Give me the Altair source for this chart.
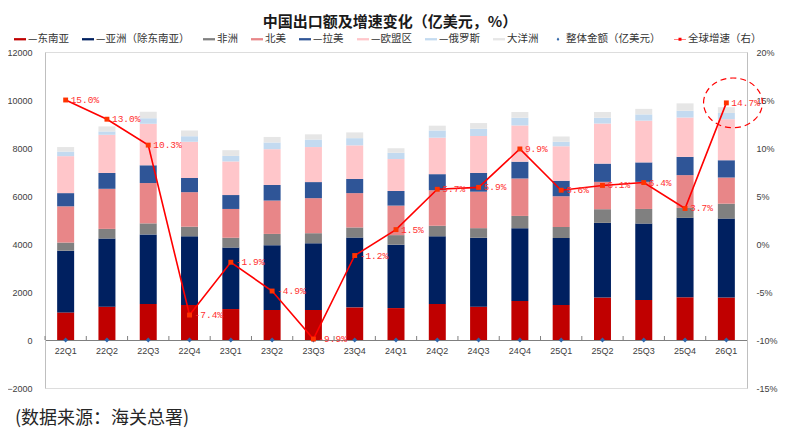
import altair as alt
import pandas as pd

quarters = ["22Q1", "22Q2", "22Q3", "22Q4", "23Q1", "23Q2", "23Q3", "23Q4", "24Q1",
            "24Q2", "24Q3", "24Q4", "25Q1", "25Q2", "25Q3", "25Q4", "26Q1"]

se_asia   = [1150, 1390, 1500, 1460, 1290, 1250, 1250, 1360, 1330, 1500, 1390, 1630, 1460, 1770, 1670, 1780, 1770]
asia_ex   = [2570, 2840, 2900, 2860, 2560, 2700, 2780, 2910, 2640, 2820, 2870, 3030, 2790, 3110, 3180, 3310, 3290]
africa    = [340, 400, 460, 400, 410, 470, 420, 420, 400, 440, 400, 510, 460, 570, 610, 410, 620]
n_america = [1510, 1670, 1680, 1440, 1200, 1390, 1460, 1430, 1230, 1480, 1520, 1560, 1280, 1140, 1130, 1370, 1090]
latam     = [550, 660, 740, 590, 580, 650, 670, 590, 610, 670, 780, 700, 650, 760, 810, 760, 720]
eu        = [1540, 1590, 1730, 1510, 1400, 1490, 1460, 1400, 1330, 1520, 1540, 1510, 1430, 1670, 1740, 1640, 1710]
russia    = [190, 140, 230, 230, 230, 280, 310, 300, 260, 300, 300, 320, 190, 240, 260, 280, 260]
oceania   = [190, 210, 270, 240, 240, 230, 220, 240, 190, 200, 240, 240, 220, 240, 230, 310, 240]

growth = [15.0, 13.0, 10.3, -7.4, -1.9, -4.9, -9.9, -1.2, 1.5, 5.7, 5.9, 9.9, 5.6, 6.1, 6.4, 3.7, 14.7]

region_names = ["—东南亚", "—亚洲（除东南亚）", "非洲", "北美", "—拉美", "—欧盟区", "—俄罗斯", "大洋洲"]
region_colors = ["#c00000", "#002060", "#808080", "#e88688", "#2f5597", "#ffc6ca", "#c3daf0", "#e6e6e6"]
region_values = [se_asia, asia_ex, africa, n_america, latam, eu, russia, oceania]

total_name = "整体金额（亿美元）"
growth_name = "全球增速（右）"
total_color = "#2e64a8"
growth_color = "#ff0000"

title_text = "中国出口额及增速变化（亿美元，%）"
source_note = "(数据来源：海关总署)"

left_ticks = [-2000, 0, 2000, 4000, 6000, 8000, 10000, 12000]
right_ticks = [-15, -10, -5, 0, 5, 10, 15, 20]

# ---- layout ----
W, H = 702, 336
LEFT_DOM = [-2000, 12000]
RIGHT_DOM = [-15, 20]
zero_px = H * (LEFT_DOM[1] - 0) / (LEFT_DOM[1] - LEFT_DOM[0])  # from top
zero_from_bottom = H - zero_px

FONT_NUM = "Liberation Sans"
FONT_CJK = "Noto Sans CJK SC"

rows = []
for i, (name, color, vals) in enumerate(zip(region_names, region_colors, region_values)):
    for q, v in zip(quarters, vals):
        rows.append({"quarter": q, "region": name, "value": v, "order": i, "color": color})
bar_df = pd.DataFrame(rows)

line_df = pd.DataFrame({
    "quarter": quarters,
    "growth": growth,
    "label": [f"{g:.1f}%" for g in growth],
})
q_df = pd.DataFrame({"quarter": quarters})
hl_df = line_df.tail(1)

x_scale = alt.Scale(domain=quarters, paddingInner=0, paddingOuter=0)
ly = alt.Scale(domain=LEFT_DOM, nice=False, zero=False)
ry = alt.Scale(domain=RIGHT_DOM, nice=False, zero=False)
xn = alt.X("quarter:N", scale=x_scale, sort=quarters, title=None)

bars = alt.Chart(bar_df).mark_bar(size=17).encode(
    x=alt.X("quarter:N", scale=x_scale, sort=quarters,
            axis=alt.Axis(orient="bottom", title=None, labelAngle=0, domain=True,
                          domainColor="#7f7f7f", domainWidth=1, ticks=False, tickSize=0,
                          labelFont=FONT_NUM, labelFontSize=9, labelColor="#404040",
                          labelPadding=6, offset=-zero_from_bottom, grid=False)),
    y=alt.Y("value:Q", stack="zero", scale=ly,
            axis=alt.Axis(orient="left", title=None, values=left_ticks, format="d",
                          grid=False, domain=True, domainColor="#bfbfbf", ticks=False,
                          tickSize=0, labelFont=FONT_NUM, labelFontSize=9,
                          labelColor="#404040", labelPadding=13)),
    color=alt.Color("color:N", scale=None),
    order=alt.Order("order:Q", sort="ascending"),
)

# small upward ticks on the zero line, between categories
tick_marks = alt.Chart(q_df).mark_rule(color="#7f7f7f", strokeWidth=1).encode(
    x=alt.X("quarter:N", scale=x_scale, sort=quarters, title=None, bandPosition=0),
    y=alt.YDatum(0, type="quantitative", scale=ly, axis=None),
    y2=alt.value(zero_px - 4),
)

diamonds = alt.Chart(q_df).mark_point(shape="diamond", filled=True, size=24,
                                      color=total_color, opacity=1).encode(
    x=xn,
    y=alt.YDatum(0, type="quantitative", scale=ly, axis=None),
)

legend_names = region_names + [total_name, growth_name]
legend_colors = region_colors + [total_color, growth_color]
rect_path = "M-1,-0.19H1V0.19H-1Z"
diamond_path = "M0,-0.3L0.22,0L0,0.3L-0.22,0Z"
linesq_path = "M-1,-0.06H1V0.06H-1Z M-0.25,-0.25H0.25V0.25H-0.25Z"
legend_shapes = [rect_path] * len(region_names) + [diamond_path, linesq_path]

legend_props = dict(orient="none", legendX=-31, legendY=-19, direction="horizontal",
                    title=None, symbolSize=144, symbolOpacity=1, symbolStrokeWidth=0,
                    labelFont=FONT_CJK, labelFontSize=10.5, labelColor="#333333",
                    columnPadding=13, labelOffset=2)

legend_layer = alt.Chart(pd.DataFrame({"series": legend_names})).mark_point(
    filled=True, opacity=0, size=144).encode(
    x=alt.value(0), y=alt.value(0),
    color=alt.Color("series:N", sort=legend_names,
                    scale=alt.Scale(domain=legend_names, range=legend_colors),
                    legend=alt.Legend(**legend_props)),
    shape=alt.Shape("series:N", sort=legend_names,
                    scale=alt.Scale(domain=legend_names, range=legend_shapes),
                    legend=alt.Legend(**legend_props)),
)

source = alt.Chart(pd.DataFrame({"t": [source_note]})).mark_text(
    align="left", baseline="alphabetic", font=FONT_CJK, fontSize=18, color="#262626"
).encode(text="t:N", x=alt.value(-30), y=alt.value(H + 36))

line = alt.Chart(line_df).mark_line(color=growth_color, strokeWidth=1.6).encode(
    x=xn,
    y=alt.Y("growth:Q", scale=ry,
            axis=alt.Axis(orient="right", title=None, values=right_ticks,
                          labelExpr="datum.value + '%'", grid=False, domain=True,
                          domainColor="#bfbfbf", ticks=False, tickSize=0,
                          labelFont=FONT_NUM, labelFontSize=9, labelColor="#404040",
                          labelPadding=9)),
)
pts = alt.Chart(line_df).mark_point(shape="square", filled=True, size=24,
                                    color="#ff3300", opacity=1).encode(
    x=xn, y=alt.Y("growth:Q", scale=ry, axis=None))
labels = alt.Chart(line_df).mark_text(align="left", baseline="middle", dx=5,
                                      font="Liberation Mono", fontSize=9.5,
                                      color="#ff3030").encode(
    x=xn, y=alt.Y("growth:Q", scale=ry, axis=None), text="label:N")

ellipse_path = "M-0.76,0A0.98,0.83,0,1,1,1.2,0A0.98,0.83,0,1,1,-0.76,0Z"
ellipse = alt.Chart(hl_df).mark_point(shape=ellipse_path, size=3600, filled=False,
                                      stroke="#ff0000", strokeWidth=1.2,
                                      strokeDash=[6, 4], opacity=1).encode(
    x=xn, y=alt.Y("growth:Q", scale=ry, axis=None))

chart = alt.layer(
    bars, tick_marks, diamonds, legend_layer, source, line, pts, labels, ellipse
).resolve_scale(y="independent").properties(
    width=W, height=H,
    title=alt.TitleParams(title_text, font=FONT_CJK, fontSize=15, fontWeight="bold",
                          color="#1a1a1a", anchor="middle", dx=-6, offset=3),
    autosize=alt.AutoSizeParams(type="none"),
    padding={"left": 37, "top": 44, "right": 38, "bottom": 40},
).configure_view(stroke=None).configure(background="white")

chart.save("out.html", embed_options={"renderer": "svg", "actions": False})
